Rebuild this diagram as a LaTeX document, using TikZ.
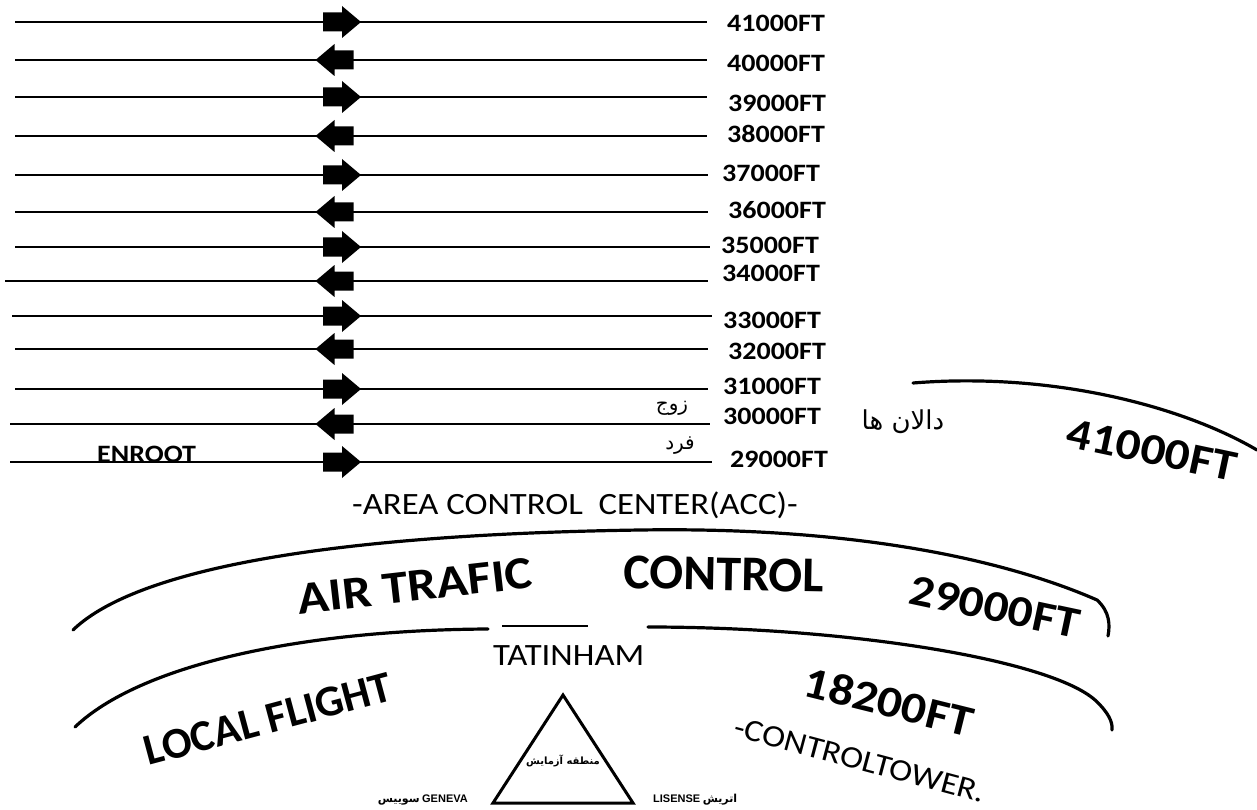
\documentclass[tikz,border=0pt]{standalone}
\usepackage{fontspec}
\setmainfont{Carlito}
\newfontfamily\cw[FakeStretch=1.12]{Carlito}
\newfontfamily\cn{Carlito}
\newfontfamily\fa[Script=Arabic]{DejaVu Sans}
\newfontfamily\lsans{Liberation Sans}
\TeXXeTstate=1
\begin{document}
\begin{tikzpicture}[x=1pt,y=-1pt,
  level/.style={line width=2.4pt},
  alt/.style={font=\cw\bfseries\fontsize{25}{30}\selectfont,anchor=west,inner sep=0pt},
  arcline/.style={line width=3.2pt,line cap=round},
  bignum/.style={font=\cw\bfseries\fontsize{44}{50}\selectfont,inner sep=0pt},
  bigword/.style={font=\cn\bfseries\fontsize{44}{50}\selectfont,inner sep=0pt},
  midtext/.style={font=\cw\fontsize{31}{36}\selectfont,inner sep=0pt},
  persian/.style={font=\fa\fontsize{20}{24}\selectfont,inner sep=0pt},
  small/.style={font=\fontsize{11}{13}\selectfont,inner sep=0pt},
  pics/blockarrow/.style={code={
    \fill[line join=round] (-19,-9.5) -- (0,-9.5) -- (0,-16) -- (19,0) -- (0,16) -- (0,9.5) -- (-19,9.5) -- cycle;}}
]
\useasboundingbox (0,0) rectangle (1257,810);

% flight levels
\foreach \i/\alt/\y/\xl/\xr/\ly/\lx/\d/\ax in {
  1/41000/22/15/707/23/727/1/342,
  2/40000/60/15/707/63/727/-1/334.5,
  3/39000/97/15/707/103/728/1/342,
  4/38000/136/15/707/134/727/-1/334.5,
  5/37000/175/15/708/173/722/1/342,
  6/36000/212/15/708/210/728/-1/334.5,
  7/35000/247/15/710/245/721/1/342,
  8/34000/281/5/708/273/722/-1/334.5,
  9/33000/316/12/712/320/723/1/342,
  10/32000/349/15/708/351/728/-1/334.5,
  11/31000/389/15/708/386/723/1/342,
  12/30000/424/10/710/416/723/-1/334.5,
  13/29000/462/10/712/459/730/1/342}{
  \coordinate (L\i) at (\xl,\y);
  \coordinate (R\i) at (\xr,\y);
  \draw[level] (L\i) -- (R\i);
  \pic[xscale=\d] (A\i) at (\ax,\y) {blockarrow};
  \node[alt] (T\i) at (\lx,\ly) {\alt FT};
}

\node[persian] (zoj) at (672,408) {\beginR زوج\endR};
\node[persian] (fard) at (680,446) {\beginR فرد\endR};
\node[font=\cw\bfseries\fontsize{25}{30}\selectfont,anchor=base west,inner sep=0pt] (enroot) at (97,462) {ENROOT};

% ACC arc
\coordinate (acc1) at (913,383);
\coordinate (acc2) at (1257,450);
\draw[arcline] (acc1) .. controls (1050,372) and (1180,405) .. (acc2);
\node[font=\fa\fontsize{26}{30}\selectfont,inner sep=0pt] (dalan) at (903,422) {\beginR دالان ها\endR};
\node[bignum,rotate=-12] (top41) at (1152,450) {41000FT};

\node[midtext,anchor=base west] (acc) at (352,514) {-AREA CONTROL\ \ CENTER(ACC)-};

% ATC arc
\coordinate (atc1) at (73,630);
\coordinate (atc2) at (640,530);
\coordinate (atc3) at (1097,600);
\coordinate (atc4) at (1108,636);
\draw[arcline] (atc1) .. controls (130,575) and (300,535) .. (atc2)
  .. controls (900,526) and (1040,575) .. (atc3)
  .. controls (1110,612) and (1110,625) .. (atc4);
\node[font=\cw\bfseries\fontsize{46}{50}\selectfont,inner sep=0pt,rotate=6.5] (airtrafic) at (415,586) {AIR TRAFIC};
\node[font=\cn\bfseries\fontsize{50}{56}\selectfont,inner sep=0pt,rotate=-1] (control) at (724,574) {CONTROL};
\node[bignum,rotate=-12] (n29) at (995,607) {29000FT};

% local arc
\coordinate (lf1) at (75,727);
\coordinate (lf2) at (488,629);
\coordinate (lf3) at (502,626);
\coordinate (lf4) at (588,626);
\coordinate (lf5) at (648,627);
\coordinate (lf6) at (1095,700);
\coordinate (lf7) at (1112,730);
\draw[arcline] (lf1) .. controls (140,665) and (300,630) .. (lf2);
\draw[line width=1.2pt] (lf3) -- (lf4);
\draw[arcline] (lf5) .. controls (850,627) and (1050,660) .. (lf6)
  .. controls (1108,712) and (1113,722) .. (lf7);
\node[bigword,rotate=15] (localflight) at (268,719) {LOCAL FLIGHT};
\node[midtext,anchor=base west] (tatinham) at (493,665) {TATINHAM};
\node[bignum,rotate=-14] (n182) at (889,702) {18200FT};
\node[midtext,rotate=-15] (tower) at (860,760) {-CONTROLTOWER.};

% triangle
\coordinate (tA) at (563,695);
\coordinate (tB) at (493,803);
\coordinate (tC) at (633,803);
\draw[line width=3pt,line join=miter] (tA) -- (tB) -- (tC) -- cycle;
\node[small,font=\fa\bfseries\fontsize{10}{12}\selectfont] (zone) at (563,761) {\beginR منطقه آزمایش\endR};
\node[small,anchor=east] (geneva) at (468,800) {{\fa\bfseries\beginR سوییس\endR}\ {\lsans\bfseries GENEVA}};
\node[small,anchor=west] (lisense) at (653,800) {{\lsans\bfseries LISENSE}\ {\fa\bfseries\beginR اتریش\endR}};
\end{tikzpicture}
\end{document}
